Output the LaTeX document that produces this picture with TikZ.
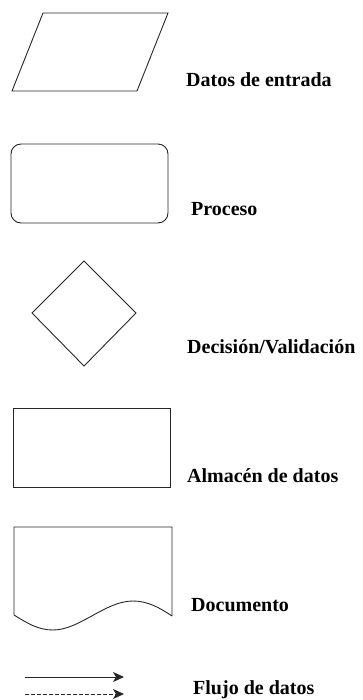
\documentclass[tikz,border=0pt]{standalone}
\usepackage{fontspec}
\setmainfont{Liberation Serif}
\usetikzlibrary{arrows.meta}
\begin{document}
\begin{tikzpicture}[x=1pt,y=-1pt,
  shp/.style={draw=black!85,line width=0.9pt,line join=miter},
  lbl/.style={anchor=base west,inner sep=0pt,font=\fontsize{20}{24}\selectfont\bfseries},
  flow/.style={draw=black!85,line width=1pt,-{Stealth[length=11pt,width=10pt,inset=3pt]}}]
\useasboundingbox (0,0) rectangle (362,700);
% Datos de entrada
\draw[shp] (43,13) -- (168,13) -- (137,91) -- (12,91) -- cycle;
\node[lbl] (t1) at (186,87) {Datos de entrada};
% Proceso
\draw[shp,rounded corners=10pt] (11,144) rectangle (168,223);
\node[lbl] (t2) at (191,216) {Proceso};
% Decision
\draw[shp] (84,261) -- (136,313) -- (84,366) -- (32,313) -- cycle;
\node[lbl] (t3) at (187,353) {Decisión/Validación};
% Almacen
\draw[shp] (13,408) rectangle (170,487);
\node[lbl] (t4) at (187,482) {Almacén de datos};
% Documento
\draw[shp] (172,616) -- (172,527) -- (14,527) -- (14,615)
  .. controls (27,623) and (38,630) .. (53,630)
  .. controls (80,630) and (105,601) .. (133,601)
  .. controls (148,601) and (160,608) .. (172,616);
\node[lbl] (t5) at (191,611) {Documento};
% Flujo
\coordinate (a1) at (25,677);
\coordinate (b1) at (124,677);
\coordinate (a2) at (25,694);
\coordinate (b2) at (124,694);
\draw[flow] (a1) -- (b1);
\draw[flow,dash pattern=on 4pt off 2pt] (a2) -- (b2);
\node[lbl] (t6) at (193,694) {Flujo de datos};
\end{tikzpicture}
\end{document}
